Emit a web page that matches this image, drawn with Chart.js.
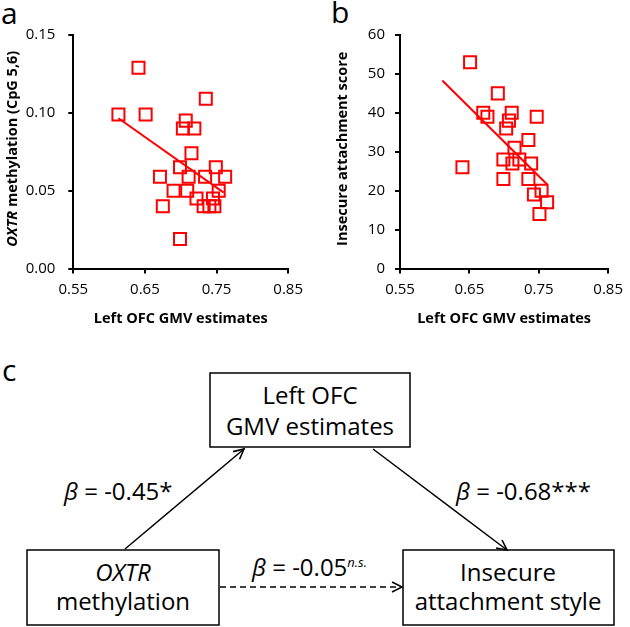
<!DOCTYPE html>
<html>
<head>
<meta charset="utf-8">
<script src="https://cdn.jsdelivr.net/npm/chart.js@4.4.1/dist/chart.umd.min.js"></script>
<style>
  html, body { margin: 0; padding: 0; background: #fff; }
  #page { position: relative; width: 630px; height: 627px; overflow: hidden; font-family: 'Open Sans', sans-serif; }
  #page canvas { position: absolute; top: 0; }
  #chartA { left: 0; }
  #chartB { left: 310px; }
  #diagram { position: absolute; left: 0; top: 0; }
  .panel { position: absolute; font-size: 30px; line-height: 1; }
</style>
</head>
<body>
<div id="page">
  <svg id="diagram" width="630" height="627" xmlns="http://www.w3.org/2000/svg" font-family="'Open Sans', sans-serif">
    <defs>
      <marker id="open" markerUnits="userSpaceOnUse" markerWidth="14" markerHeight="14" refX="11" refY="6" orient="auto">
        <path d="M1,1 L11,6 L1,11" fill="none" stroke="#000" stroke-width="1.6"/>
      </marker>
    </defs>
    <text x="2" y="381" font-size="30">c</text>
    <text x="1" y="24" font-size="30">a</text>
    <text x="331" y="23" font-size="30">b</text>

    <!-- boxes -->
    <rect x="210" y="373" width="200" height="74" fill="none" stroke="#000" stroke-width="1.5"/>
    <rect x="27" y="550" width="192" height="75" fill="none" stroke="#000" stroke-width="1.5"/>
    <rect x="403" y="550" width="211" height="75" fill="none" stroke="#000" stroke-width="1.5"/>

    <g font-size="24" text-anchor="middle" fill="#000">
      <text x="310" y="404">Left OFC</text>
      <text x="310" y="435">GMV estimates</text>
      <text x="123" y="581" font-style="italic">OXTR</text>
      <text x="123" y="610">methylation</text>
      <text x="508" y="581">Insecure</text>
      <text x="508" y="610">attachment style</text>
    </g>

    <!-- paths -->
    <line x1="125" y1="549" x2="244" y2="449" stroke="#000" stroke-width="1.5" marker-end="url(#open)"/>
    <line x1="373" y1="449" x2="507" y2="550" stroke="#000" stroke-width="1.5" marker-end="url(#open)"/>
    <line x1="220" y1="587" x2="402" y2="587" stroke="#000" stroke-width="1.5" stroke-dasharray="6,4" marker-end="url(#open)"/>

    <g font-size="24" fill="#000">
      <text x="64" y="500"><tspan font-style="italic">β</tspan> = -0.45*</text>
      <text x="456" y="500"><tspan font-style="italic">β</tspan> = -0.68***</text>
      <text x="252" y="576"><tspan font-style="italic">β</tspan> = -0.05<tspan font-size="13" font-style="italic" dy="-9">n.s.</tspan></text>
    </g>
  </svg>
  <canvas id="chartA" width="310" height="340"></canvas>
  <canvas id="chartB" width="320" height="340"></canvas>
</div>
<script>
// ─── DATOS ────────────────────────────────────────────────────
// panel a: left OFC GMV (x) vs OXTR methylation (y)
const gmvA = [0.641, 0.735, 0.613, 0.651, 0.707, 0.703, 0.719, 0.715, 0.699, 0.749, 0.671, 0.711,
              0.734, 0.762, 0.690, 0.709, 0.753, 0.722, 0.745, 0.732, 0.740, 0.747, 0.675, 0.699];
const methylation = [0.129, 0.109, 0.099, 0.099, 0.095, 0.090, 0.090, 0.074, 0.065, 0.065, 0.059, 0.059,
                     0.059, 0.059, 0.050, 0.050, 0.050, 0.045, 0.045, 0.040, 0.040, 0.040, 0.040, 0.019];
const fitAx = [0.613, 0.760];
const fitAy = [0.0965, 0.0487];

// panel b: left OFC GMV (x) vs insecure attachment score (y)
const gmvB = [0.651, 0.691, 0.670, 0.676, 0.711, 0.707, 0.703, 0.747, 0.735, 0.715, 0.699,
              0.712, 0.722, 0.739, 0.640, 0.699, 0.735, 0.754, 0.743, 0.762, 0.751];
const attachment = [53, 45, 40, 39, 40, 38, 36, 39, 33, 31, 28,
                    27, 28, 27, 26, 23, 23, 20, 19, 17, 14];
const fitBx = [0.611, 0.7625];
const fitBy = [48.3, 21.5];

const xTicks = [0.55, 0.65, 0.75, 0.85];
const yTicksA = [0, 0.05, 0.10, 0.15];
const yTicksB = [0, 10, 20, 30, 40, 50, 60];

const RED = '#ff0000';
const FONT = "'Open Sans', sans-serif";
Chart.defaults.font.family = FONT;
Chart.defaults.color = '#000';

// título Y con partes en cursiva
const yTitlePlugin = {
    id: 'yTitle',
    afterDraw(chart, args, opts) {
        if (!opts.parts) return;
        const { ctx, chartArea } = chart;
        ctx.save();
        ctx.translate(opts.x, (chartArea.top + chartArea.bottom) / 2 + (opts.dy || 0));
        ctx.rotate(-Math.PI / 2);
        ctx.textBaseline = 'middle';
        ctx.fillStyle = '#000';
        let total = 0;
        opts.parts.forEach(p => { ctx.font = p.font; total += ctx.measureText(p.text).width; });
        let x = -total / 2;
        opts.parts.forEach(p => {
            ctx.font = p.font;
            ctx.fillText(p.text, x, 0);
            x += ctx.measureText(p.text).width;
        });
        ctx.restore();
    }
};

function toPoints(xs, ys) {
    return xs.map((x, i) => ({ x: x, y: ys[i] }));
}

function axisX(width) {
    return {
        type: 'linear', min: 0.55, max: 0.85,
        afterBuildTicks: s => { s.ticks = xTicks.map(v => ({ value: v })); },
        afterFit: s => { s.height = 71.5; },
        ticks: { callback: v => v.toFixed(2), font: { size: 15 }, color: '#000', padding: 7, maxRotation: 0 },
        border: { display: true, color: '#000', width: 2 },
        grid: { display: true, drawOnChartArea: false, drawTicks: true, tickLength: 5, color: '#000', lineWidth: 2 },
        title: { display: true, text: 'Left OFC GMV estimates', font: { size: 14.5, weight: 'bold' }, color: '#000', padding: { top: 0, bottom: 12 } }
    };
}

function axisY(min, max, ticks, fmt, width, pad) {
    return {
        type: 'linear', min: min, max: max,
        afterBuildTicks: s => { s.ticks = ticks.map(v => ({ value: v })); },
        afterFit: s => { s.width = width; },
        ticks: { callback: fmt, font: { size: 15 }, color: '#000', padding: pad },
        border: { display: true, color: '#000', width: 2 },
        grid: { display: true, drawOnChartArea: false, drawTicks: true, tickLength: 5, color: '#000', lineWidth: 2 }
    };
}

function makeScatter(id, pts, fit, yScale, padRight, yTitle) {
    return new Chart(document.getElementById(id), {
        type: 'scatter',
        data: {
            datasets: [
                { data: pts, pointStyle: 'rect', radius: 8.5, borderWidth: 2, borderColor: RED, backgroundColor: 'rgba(0,0,0,0)' },
                { type: 'line', data: fit, showLine: true, borderColor: RED, borderWidth: 2, pointRadius: 0, fill: false }
            ]
        },
        options: {
            responsive: false,
            animation: false,
            layout: { padding: { top: 35, right: padRight, left: 0, bottom: 0 } },
            scales: { x: axisX(), y: yScale },
            plugins: { legend: { display: false }, tooltip: { enabled: false }, yTitle: yTitle }
        },
        plugins: [yTitlePlugin]
    });
}

makeScatter('chartA', toPoints(gmvA, methylation), toPoints(fitAx, fitAy),
    axisY(0, 0.15, yTicksA, v => v.toFixed(2), 73.3, 13), 21.7,
    { x: 13, dy: -3, parts: [
        { text: 'OXTR', font: `italic bold 14.5px ${FONT}` },
        { text: ' methylation (CpG 5,6)', font: `bold 14.5px ${FONT}` }
    ] });

makeScatter('chartB', toPoints(gmvB, attachment), toPoints(fitBx, fitBy),
    axisY(0, 60, yTicksB, v => String(v), 90, 10), 15,
    { x: 33, dy: -3, parts: [
        { text: 'Insecure attachment score', font: `bold 14.5px ${FONT}` }
    ] });
</script>
</body>
</html>
